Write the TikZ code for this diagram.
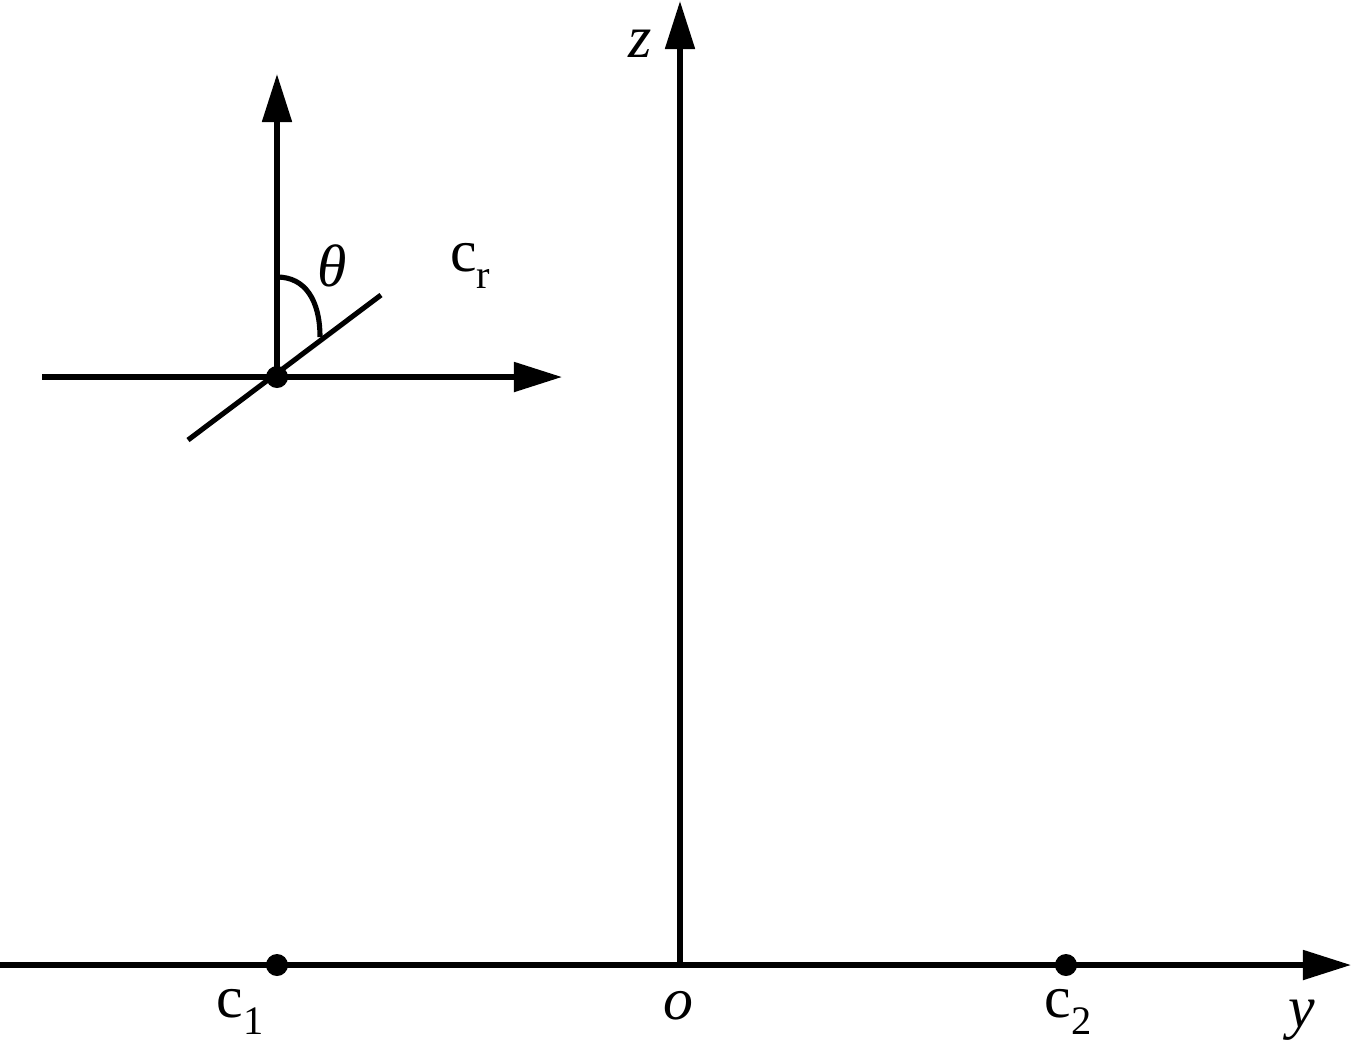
\documentclass[tikz,border=0pt]{standalone}
\usepackage{fontspec}
\setmainfont{Liberation Serif}
\newfontfamily\tms{Liberation Serif}
\usetikzlibrary{arrows.meta}
\newcommand{\sbs}[1]{\raisebox{-0.28em}{\fontsize{11.5}{13}\selectfont #1}}
\begin{document}
\begin{tikzpicture}[x=0.01cm,y=-0.01cm,
  axis/.style={line width=1.45pt,-{Triangle[length=0.48cm,width=0.29cm]}},
  plain/.style={line width=1.45pt},
  dotnode/.style={circle,fill=black,inner sep=0pt,minimum size=0.22cm},
  lbl/.style={font=\tms\fontsize{17}{20}\selectfont,inner sep=0pt}]
\useasboundingbox (0,0) rectangle (1353,1053);
% main axes
\coordinate (yl) at (0,965);
\coordinate (yr) at (1351,965);
\coordinate (O) at (680,965);
\coordinate (zt) at (680,1);
\draw[axis] (yl) -- (yr);
\draw[axis] (O) -- (zt);
\node[dotnode] (c1) at (277,965) {};
\node[dotnode] (c2) at (1066,965) {};
% labels
\node[lbl] (lc1) at (240,1012) {c\sbs{1}};
\node[lbl] (lo) at (678,1006) {\itshape o};
\node[lbl] (lc2) at (1068,1012) {c\sbs{2}};
\node[lbl] (ly) at (1302,1020) {\itshape y};
\node[lbl] (lz) at (640,44) {\itshape z};
% small frame
\node[dotnode] (p) at (277,377) {};
\coordinate (ht) at (562,377);
\coordinate (hl) at (42,377);
\coordinate (vt) at (277,74);
\coordinate (d1) at (188,440);
\coordinate (d2) at (381,295);
\draw[plain] (hl) -- (p.center);
\draw[axis] (p.center) -- (ht);
\draw[axis] (p.center) -- (vt);
\draw[plain] (d1) -- (d2);
\coordinate (a1) at (277,277);
\coordinate (a2) at (320,337);
\draw[plain] (a1) .. controls (305,277) and (320,300) .. (a2);
\node[lbl] (th) at (332,266) {\itshape θ};
\node[lbl] (cr) at (470,266) {c\sbs{r}};
\end{tikzpicture}
\end{document}
